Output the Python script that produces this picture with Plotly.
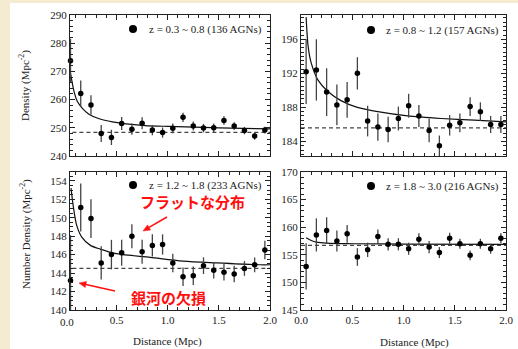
import math
import plotly.graph_objects as go

W, H = 518, 349

# ---------------- data ----------------
distance = [0.05, 0.15, 0.25, 0.35, 0.45, 0.55, 0.65, 0.75, 0.85, 0.95,
            1.05, 1.15, 1.25, 1.35, 1.45, 1.55, 1.65, 1.75, 1.85, 1.95]

# z = 0.3 ~ 0.8
dens_a = [273.8, 262.2, 258.1, 248.0, 246.6, 251.5, 249.5, 251.6, 249.2, 248.3,
          249.8, 253.7, 250.6, 249.9, 250.0, 252.6, 250.6, 249.0, 247.1, 249.2]
err_a = [7.8, 4.6, 3.4, 3.0, 2.7, 2.3, 2.0, 2.1, 1.8, 1.8,
         1.7, 1.6, 1.6, 1.5, 1.5, 1.5, 1.4, 1.3, 1.3, 1.2]
fit_x_a = [0.05, 0.085, 0.117, 0.166, 0.23, 0.33, 0.46, 0.62, 0.78, 1.0, 1.5, 2.0]
fit_y_a = [269.3, 262.8, 259.3, 256.9, 254.8, 253.2, 252.1, 251.3, 250.8, 250.5, 250.0, 249.6]
bg_a = 248.4

# z = 0.8 ~ 1.2
dens_b = [192.2, 192.4, 189.8, 188.3, 188.9, 192.0, 186.4, 185.7, 185.4, 186.7,
          188.2, 187.0, 185.3, 183.5, 185.9, 186.2, 188.1, 187.5, 186.0, 186.0]
err_b = [3.8, 3.6, 2.8, 2.4, 2.1, 1.9, 1.8, 1.6, 1.5, 1.4,
         1.4, 1.3, 1.4, 1.2, 1.2, 1.1, 1.1, 1.1, 1.0, 1.0]
fit_x_b = [0.05, 0.07, 0.10, 0.166, 0.26, 0.39, 0.55, 0.75, 1.04, 1.37, 1.69, 2.0]
fit_y_b = [198.6, 195.1, 193.2, 191.2, 189.9, 188.8, 188.0, 187.5, 187.0, 186.7, 186.5, 186.3]
bg_b = 185.6

# z = 1.2 ~ 1.8
dens_c = [143.2, 151.1, 149.9, 145.1, 146.0, 146.2, 148.0, 146.3, 147.0, 147.1,
          145.1, 143.6, 143.7, 144.8, 144.3, 144.1, 143.9, 144.5, 144.9, 146.5]
err_c = [4.9, 2.6, 2.1, 1.8, 1.6, 1.4, 1.3, 1.3, 1.2, 1.1,
         1.0, 1.0, 1.0, 0.9, 0.9, 0.9, 0.9, 0.8, 0.8, 1.0]
fit_x_c = [0.055, 0.08, 0.11, 0.16, 0.245, 0.34, 0.5, 0.83, 1.15, 1.48, 1.9, 2.0]
fit_y_c = [153.2, 151.0, 149.2, 147.9, 147.0, 146.6, 146.1, 145.7, 145.3, 145.1, 144.9, 144.9]
bg_c = 144.5

# z = 1.8 ~ 3.0
dens_d = [152.9, 158.6, 159.4, 157.5, 158.8, 154.6, 155.9, 158.3, 156.9, 156.9,
          156.1, 157.8, 156.4, 155.4, 158.0, 157.0, 154.9, 157.0, 156.1, 158.0]
err_d = [4.2, 3.0, 2.4, 1.9, 1.6, 1.6, 1.3, 1.3, 1.1, 1.1,
         1.1, 1.1, 1.1, 1.0, 1.0, 0.9, 0.9, 0.9, 0.9, 0.9]
fit_x_d = [0.05, 0.1, 0.15, 0.25, 0.5, 1.0, 2.0]
fit_y_d = [158.1, 157.6, 157.3, 157.1, 157.0, 156.95, 156.9]
bg_d = 156.7

labels = ["z = 0.3 ~ 0.8 (136 AGNs)", "z = 0.8 ~ 1.2 (157 AGNs)",
          "z = 1.2 ~ 1.8 (233 AGNs)", "z = 1.8 ~ 3.0 (216 AGNs)"]

# ---------------- layout helpers ----------------
def px(x):
    return x / W

def py(y):
    return 1 - y / H

SERIF = "Liberation Serif, Times New Roman, serif"
AX = "#222222"

fig = go.Figure()

panels = [
    dict(ax="", dens=dens_a, err=err_a, fx=fit_x_a, fy=fit_y_a, bg=bg_a),
    dict(ax="2", dens=dens_b, err=err_b, fx=fit_x_b, fy=fit_y_b, bg=bg_b),
    dict(ax="3", dens=dens_c, err=err_c, fx=fit_x_c, fy=fit_y_c, bg=bg_c),
    dict(ax="4", dens=dens_d, err=err_d, fx=fit_x_d, fy=fit_y_d, bg=bg_d),
]

for p in panels:
    xa, ya = "x" + p["ax"], "y" + p["ax"]
    fig.add_trace(go.Scatter(x=[0, 2.0], y=[p["bg"], p["bg"]], mode="lines",
                             line=dict(color="#444", width=1.2, dash="4px,3px"),
                             xaxis=xa, yaxis=ya, showlegend=False, hoverinfo="skip"))
    fig.add_trace(go.Scatter(x=p["fx"], y=p["fy"], mode="lines",
                             line=dict(color="#111", width=1.2, shape="spline", smoothing=0.8),
                             xaxis=xa, yaxis=ya, showlegend=False, hoverinfo="skip"))
    fig.add_trace(go.Scatter(x=distance, y=p["dens"], mode="markers",
                             marker=dict(color="#000", size=5.5),
                             error_y=dict(type="data", array=p["err"], visible=True,
                                          thickness=1.3, width=0, color="#444"),
                             cliponaxis=False,
                             xaxis=xa, yaxis=ya, showlegend=False))

TFONT = dict(family=SERIF, size=11, color="#222")

def xaxis_cfg(domain, rng, labels_on):
    return dict(domain=domain, range=rng, showline=True, linecolor=AX, linewidth=1,
                mirror="ticks", ticks="inside", ticklen=5, tickwidth=1, tickcolor=AX,
                tick0=0, dtick=0.5, tickformat=".1f", showticklabels=labels_on,
                showgrid=False, zeroline=False, automargin=False,
                tickfont=TFONT,
                minor=dict(ticks="inside", ticklen=3, dtick=0.1, tick0=0, tickcolor=AX, showgrid=False))

def yaxis_cfg(domain, rng, dtick, tick0, mdtick, anchor):
    return dict(domain=domain, range=rng, showline=True, linecolor=AX, linewidth=1,
                mirror="ticks", ticks="inside", ticklen=5, tickwidth=1, tickcolor=AX,
                tick0=tick0, dtick=dtick, showgrid=False, zeroline=False, anchor=anchor,
                automargin=False, tickfont=TFONT,
                minor=dict(ticks="inside", ticklen=3, dtick=mdtick, tick0=tick0, tickcolor=AX, showgrid=False))

dx_left = [px(70), px(270)]
dx_right = [px(301), px(506)]
dy_top = [py(156), py(15)]
dy_bot = [py(310), py(172)]

fig.update_layout(
    width=W, height=H, margin=dict(l=0, r=0, t=0, b=0),
    paper_bgcolor="#F5EBD0", plot_bgcolor="white",
    xaxis=xaxis_cfg(dx_left, [0.045, 2.0], False) | dict(anchor="y"),
    yaxis=yaxis_cfg(dy_top, [240, 290], 10, 240, 2, "x"),
    xaxis2=xaxis_cfg(dx_right, [0, 2.0], False) | dict(anchor="y2"),
    yaxis2=yaxis_cfg(dy_top, [182.3, 198.85], 4, 184, 0.5, "x2"),
    xaxis3=xaxis_cfg(dx_left, [0.045, 2.0], True) | dict(anchor="y3"),
    yaxis3=yaxis_cfg(dy_bot, [140, 154.95], 2, 140, 0.5, "x3"),
    xaxis4=xaxis_cfg(dx_right, [0, 2.0], True) | dict(anchor="y4"),
    yaxis4=yaxis_cfg(dy_bot, [145, 170], 5, 145, 1, "x4"),
)

RED = "#FF1010"
shapes = [dict(type="rect", xref="paper", yref="paper", x0=px(10), x1=1, y0=0, y1=py(3),
               fillcolor="white", line=dict(width=0), layer="below")]
# legend dots
for cx, cy in [(133, 29), (371, 30), (133, 185), (371, 186)]:
    r = 4
    shapes.append(dict(type="circle", xref="paper", yref="paper",
                       x0=px(cx - r), x1=px(cx + r), y0=py(cy + r), y1=py(cy - r),
                       fillcolor="black", line=dict(width=0)))

# red arrows (head, tail) in pixel coords, drawn as a line plus a filled head
for (hx, hy), (tx, ty) in [((143, 231), (167, 217)), ((79, 283), (115, 291))]:
    dxp, dyp = hx - tx, hy - ty
    L = math.hypot(dxp, dyp)
    ux, uy = dxp / L, dyp / L
    nx, ny = -uy, ux
    hl, hw = 7, 3
    bx, by = hx - hl * ux, hy - hl * uy
    shapes.append(dict(type="line", xref="paper", yref="paper",
                       x0=px(tx), y0=py(ty), x1=px(bx + ux), y1=py(by + uy),
                       line=dict(color=RED, width=1.5)))
    path = "M {} {} L {} {} L {} {} Z".format(
        px(hx), py(hy), px(bx + hw * nx), py(by + hw * ny), px(bx - hw * nx), py(by - hw * ny))
    shapes.append(dict(type="path", xref="paper", yref="paper", path=path,
                       fillcolor=RED, line=dict(color=RED, width=0.5)))
fig.update_layout(shapes=shapes)

ann = []
def text(x, y, s, size=11, angle=0, xanchor="center", color="#222", family=SERIF):
    ann.append(dict(xref="paper", yref="paper", x=px(x), y=py(y), text=s, showarrow=False,
                    xanchor=xanchor, yanchor="middle", textangle=angle,
                    font=dict(family=family, size=size, color=color)))

for (x, y), s in zip([(147, 29), (384, 30), (147, 185), (384, 186)], labels):
    text(x, y, s, size=11, xanchor="left")

text(25, 86, "Density (Mpc<sup>-2</sup>)", size=11, angle=-90)
text(25, 234, "Number Density (Mpc<sup>-2</sup>)", size=11, angle=-90)
text(167, 341, "Distance (Mpc)", size=11)
text(414, 342, "Distance (Mpc)", size=11)
text(66.5, 322, "0.0", size=11)

JP = "Noto Sans CJK JP"
text(192, 202, "<b>フラットな分布</b>", size=15, color=RED, family=JP)
text(168, 297, "<b>銀河の欠損</b>", size=15, color=RED, family=JP)

fig.update_layout(annotations=ann)
fig.write_html("out.html", config={"displayModeBar": False},
               post_script="document.body.style.margin='0';document.body.style.background='#F5EBD0';")
